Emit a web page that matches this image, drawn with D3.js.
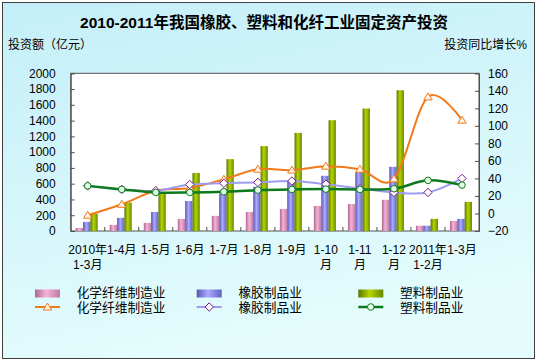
<!DOCTYPE html>
<html><head><meta charset="utf-8">
<script src="https://cdn.jsdelivr.net/npm/d3@7"></script>
<style>
body{margin:0;background:#fff}
svg{display:block}
text{font-family:"Liberation Sans","Noto Sans CJK SC",sans-serif;fill:#000}
</style>
</head><body>
<svg id="c" width="545" height="364"></svg>
<script>
// ---------- data ----------
const categories = [["2010年","1-3月"],["1-4月"],["1-5月"],["1-6月"],["1-7月"],["1-8月"],["1-9月"],["1-10","月"],["1-11","月"],["1-12","月"],["2011年","1-2月"],["1-3月"]];
const seriesNames = ["化学纤维制造业","橡胶制品业","塑料制品业"];
// investment, 亿元 (bars, left axis)
const chemFiberInv = [38, 78, 103, 152, 192, 242, 280, 318, 342, 396, 67, 127];
const rubberInv    = [116, 167, 242, 380, 477, 561, 624, 700, 747, 814, 67, 154];
const plasticInv   = [220, 360, 494, 736, 911, 1076, 1244, 1405, 1553, 1785, 154, 369];
// year-on-year growth, % (lines, right axis)
const chemFiberGrowth = [-2, 10.5, 26, 29, 39, 50.5, 49.5, 54, 50.5, 39.5, 133, 106.5];
const rubberGrowth    = [31.5, 27.5, 26, 33, 34.5, 35.5, 37, 33.5, 28.5, 24, 24, 40];
const plasticGrowth   = [31.5, 27.5, 24, 24, 24.8, 26.7, 27.5, 27.8, 27.5, 28.2, 37.8, 32.4];
const leftTickValues  = [0,200,400,600,800,1000,1200,1400,1600,1800,2000];
const rightTickValues = [-20,0,20,40,60,80,100,120,140,160];
const titleText = "2010-2011年我国橡胶、塑料和化纤工业固定资产投资";
const leftAxisTitle = "投资额（亿元）";
const rightAxisTitle = "投资同比增长%";

// ---------- setup ----------
const svg = d3.select("#c");
const defs = svg.append("defs");

const bg = defs.append("linearGradient").attr("id","bg").attr("x1",0).attr("y1",0).attr("x2",0.3).attr("y2",1);
bg.append("stop").attr("offset",0).attr("stop-color","#c4eff9");
bg.append("stop").attr("offset",1).attr("stop-color","#e4fcfc");

const barColors = [
  ["#b2648e","#f4b4d8","#c27aa2"],
  ["#5656b4","#aaaaff","#6262c4"],
  ["#587600","#b6d600","#668800"]
];
barColors.forEach((c,i)=>{
  const g = defs.append("linearGradient").attr("id","bar"+i).attr("x1",0).attr("x2",1).attr("y1",0).attr("y2",0);
  g.append("stop").attr("offset",0).attr("stop-color",c[0]);
  g.append("stop").attr("offset",0.45).attr("stop-color",c[1]);
  g.append("stop").attr("offset",1).attr("stop-color",c[2]);
});
const lineColors = ["#f07a1c","#9c9cf0","#0c7a1c"];
const markerStroke = ["#f07a1c","#7a1a8a","#0c7a1c"];
const markerFill = ["#fff4e8","#ffffff","#e6ffe6"];

// chart background + border
svg.append("rect").attr("x",2.5).attr("y",2.5).attr("width",532).attr("height",356)
  .attr("fill","url(#bg)").attr("stroke","#404040").attr("stroke-width",1);

const plot = {l:70.7, r:479, t:73.3, b:231};

const x = d3.scaleBand().domain(d3.range(categories.length)).range([plot.l, plot.r]).paddingInner(0).paddingOuter(0);
const xs = d3.scaleBand().domain(d3.range(3)).range([-12, 10]).paddingInner(0);
const yL = d3.scaleLinear().domain([0,2000]).range([plot.b, plot.t]);
const yR = d3.scaleLinear().domain([-20,160]).range([plot.b, plot.t]);

// plot area
svg.append("rect").attr("x",plot.l).attr("y",plot.t).attr("width",plot.r-plot.l).attr("height",plot.b-plot.t)
  .attr("fill","#fff").attr("stroke","#505050").attr("stroke-width",1);

// title
svg.append("text").attr("x",264).attr("y",22).attr("text-anchor","middle").attr("dominant-baseline","central")
  .style("font-size","15.5px").style("font-weight","bold").text(titleText);
svg.append("text").attr("x",8).attr("y",45).attr("dominant-baseline","central").style("font-size","12px").text(leftAxisTitle);
svg.append("text").attr("x",527).attr("y",45).attr("text-anchor","end").attr("dominant-baseline","central").style("font-size","12px").text(rightAxisTitle);

// bars
const barSeries = [chemFiberInv, rubberInv, plasticInv];
barSeries.forEach((vals,si)=>{
  svg.append("g").selectAll("rect").data(vals).join("rect")
    .attr("x",(d,i)=>x(i)+x.bandwidth()/2+xs(si))
    .attr("width",xs.bandwidth())
    .attr("y",d=>yL(d))
    .attr("height",d=>yL(0)-yL(d))
    .attr("fill","url(#bar"+si+")");
});

// axes
const axL = svg.append("g").attr("transform",`translate(${plot.l},0)`)
  .call(d3.axisLeft(yL).tickValues(leftTickValues).tickSize(-4).tickPadding(15).tickFormat(d3.format("d")));
const axR = svg.append("g").attr("transform",`translate(${plot.r},0)`)
  .call(d3.axisRight(yR).tickValues(rightTickValues).tickSize(-4).tickPadding(9).tickFormat(d3.format("d")));
[axL,axR].forEach(a=>{
  a.select(".domain").attr("stroke","#505050");
  a.selectAll(".tick line").attr("stroke","#505050");
  a.selectAll(".tick text").style("font-size","12px").attr("fill","#000").style("font-family",'"Liberation Sans",sans-serif');
});
// x ticks at category boundaries
svg.append("g").selectAll("line").data(d3.range(1,categories.length)).join("line")
  .attr("x1",i=>x(i)).attr("x2",i=>x(i)).attr("y1",plot.b).attr("y2",plot.b-4)
  .attr("stroke","#505050");
// x labels
const xl = svg.append("g").style("font-size","12px");
categories.forEach((lines,i)=>{
  lines.forEach((t,k)=>{
    xl.append("text").attr("x",x(i)+x.bandwidth()/2).attr("y",250+k*15)
      .attr("text-anchor","middle").attr("dominant-baseline","central").text(t);
  });
});

// lines
const lineSeries = [chemFiberGrowth, rubberGrowth, plasticGrowth];
const line = d3.line().x((d,i)=>x(i)+x.bandwidth()/2).y(d=>yR(d)).curve(d3.curveCatmullRom.alpha(0));
const markerPath = [
  "M0,-4L4.2,3L-4.2,3Z",
  "M0,-4.2L4.2,0L0,4.2L-4.2,0Z",
  null
];
function drawMarker(g, si){
  if (si===2) return g.append("circle").attr("r",3.3).attr("fill",markerFill[si]).attr("stroke",markerStroke[si]).attr("stroke-width",1);
  return g.append("path").attr("d",markerPath[si]).attr("fill",markerFill[si]).attr("stroke",markerStroke[si]).attr("stroke-width",1);
}
lineSeries.forEach((vals,si)=>{
  svg.append("path").datum(vals).attr("d",line).attr("fill","none")
    .attr("stroke",lineColors[si]).attr("stroke-width",si===2?2.5:2);
  vals.forEach((v,i)=>{
    const g = svg.append("g").attr("transform",`translate(${x(i)+x.bandwidth()/2},${yR(v)})`);
    drawMarker(g, si);
  });
});

// legend
const legCols = [35, 196.7, 358.3];
const leg = svg.append("g");
seriesNames.forEach((name,si)=>{
  const cx = legCols[si];
  leg.append("rect").attr("x",cx).attr("y",289.5).attr("width",25).attr("height",8).attr("fill","url(#bar"+si+")");
  leg.append("text").attr("x",cx+41.7).attr("y",293).attr("dominant-baseline","central").style("font-size","12.7px").text(name);
  leg.append("line").attr("x1",cx).attr("x2",cx+25).attr("y1",307).attr("y2",307)
    .attr("stroke",lineColors[si]).attr("stroke-width",si===2?2.5:2);
  drawMarker(leg.append("g").attr("transform",`translate(${cx+12.5},307)`), si);
  leg.append("text").attr("x",cx+41.7).attr("y",307.5).attr("dominant-baseline","central").style("font-size","12.7px").text(name);
});
</script>
</body></html>
